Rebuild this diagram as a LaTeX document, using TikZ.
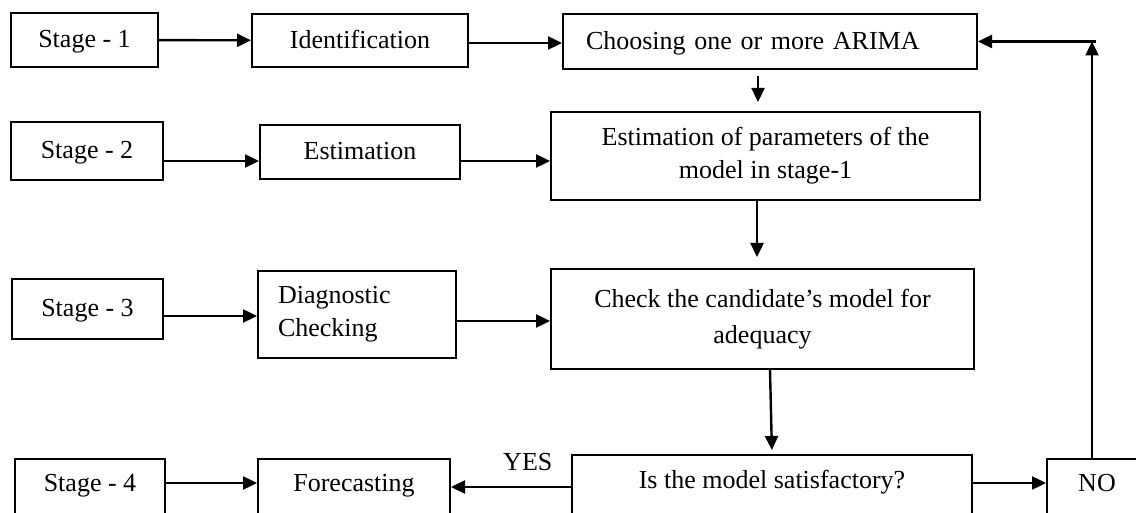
\documentclass[tikz,border=0pt]{standalone}
\usepackage{fontspec}
\setmainfont{Liberation Serif}
\usetikzlibrary{arrows.meta}

\begin{document}
\begin{tikzpicture}[x=0.5pt,y=-0.5pt,
    box/.style={draw,line width=1pt,inner sep=0pt,align=center,font=\fontsize{13}{16.5}\selectfont},
    onebox/.style={box,text height=9pt,text depth=1pt},
    lowbox/.style={box,anchor=north,text height=9pt,text depth=22pt,inner ysep=#1},
    flow/.style={line width=1.2pt,-{Triangle[length=7pt,width=6.5pt]}}]
        \useasboundingbox (0,0) rectangle (1136,513);

        \node[onebox,minimum width=73.5pt,minimum height=27pt] (s1) at (84.5,40) {Stage - 1};
        \node[onebox,minimum width=76pt,minimum height=29pt] (s2) at (87,151) {Stage - 2};
        \node[onebox,minimum width=75.5pt,minimum height=30pt] (s3) at (87.5,309) {Stage - 3};
        \node[lowbox=7pt,minimum width=75pt] (s4) at (90,458) {Stage - 4};

        \node[onebox,minimum width=108pt,minimum height=26.5pt] (ident) at (360,40.5) {Identification};
        \node[onebox,minimum width=100pt,minimum height=27pt] (estim) at (360,152) {Estimation};
        \node[box,text width=79pt,inner xsep=10pt,align=left,minimum height=43.5pt] (diag) at (357,314.5) {Diagnostic\\Checking};
        \node[lowbox=7pt,minimum width=96pt] (fcast) at (354,458) {Forecasting};

        \node[onebox,text width=184pt,inner xsep=11.5pt,align=left,minimum height=27.5pt] (choose) at (770,41.5) {Choosing one or more ARIMA};
        \node[box,minimum width=214.5pt,minimum height=44pt] (param) at (765.5,156) {Estimation of parameters of the\\model in stage-1};
        \node[box,minimum width=211.5pt,minimum height=50pt,font=\fontsize{13}{18}\selectfont] (check) at (762.5,319) {Check the candidate’s model for\\adequacy};
        \node[lowbox=7.5pt,minimum width=200pt] (satis) at (772,454) {Is the model satisfactory?};
        \node[lowbox=7pt,minimum width=50pt] (no) at (1097,458) {NO};

        \coordinate (corner) at ([xshift=-2.5pt]no.north |- choose.east);

        \draw[flow] (s1) -- (ident);
        \draw[flow] (ident.east |- 0,43) -- (choose.west |- 0,43);
        \draw[flow] ([yshift=-5pt]s2.east) -- ([yshift=-5pt]s2.east -| estim.west);
        \draw[flow] ([yshift=-4.5pt]estim.east) -- ([yshift=-4.5pt]estim.east -| param.west);
        \draw[flow] ([yshift=-3.5pt]s3.east) -- ([yshift=-3.5pt]s3.east -| diag.west);
        \draw[flow] ([yshift=-3.25pt]diag.east) -- ([yshift=-3.25pt]diag.east -| check.west);
        \draw[flow] ([yshift=-12.5pt]s4.north east) -- ([yshift=-12.5pt]s4.north east -| fcast.west);

        \draw[flow,shorten <=3pt,shorten >=4.5pt] ([xshift=-6pt]choose.south) -- ([xshift=-6pt]choose.south |- param.north);
        \draw[flow,shorten >=5.5pt] ([xshift=-4.25pt]param.south) -- ([xshift=-4.25pt]param.south |- check.north);
        \draw[flow,shorten >=2pt] ([xshift=3.75pt]check.south) -- (satis.north);

        \draw[flow] ([yshift=-16.5pt]satis.north west) -- ([yshift=-16.5pt]satis.north west -| fcast.east)
            node[pos=0.36,yshift=12.5pt,font=\fontsize{13}{16.5}\selectfont] (yes) {YES};
        \draw[flow] ([yshift=-14.5pt]satis.north east) -- ([yshift=-14.5pt]satis.north east -| no.west);
        \draw[flow] ([xshift=-2.5pt]no.north) -- (corner);
        \draw[flow] ([xshift=2pt]corner) -- (choose.east);
      \end{tikzpicture}
\end{document}
